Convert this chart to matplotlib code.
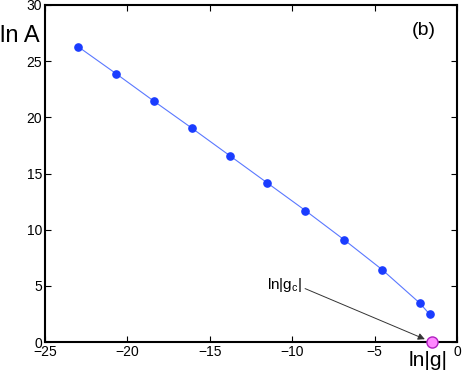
import matplotlib
matplotlib.use("Agg")
import matplotlib.pyplot as plt

ln_g = [-23.0, -20.7, -18.4, -16.1, -13.8, -11.5, -9.2, -6.85, -4.55, -2.25, -1.65]
ln_A = [26.3, 23.9, 21.45, 19.05, 16.6, 14.15, 11.7, 9.1, 6.45, 3.45, 2.45]
ln_gc = -1.5
xticks = [-25, -20, -15, -10, -5, 0]
yticks = [0, 5, 10, 15, 20, 25, 30]

plt.rcParams['font.family'] = ['Liberation Sans', 'DejaVu Sans']
plt.rcParams['mathtext.fontset'] = 'custom'
plt.rcParams['mathtext.rm'] = 'Liberation Sans'
plt.rcParams['mathtext.it'] = 'Liberation Sans'
fig = plt.figure(figsize=(4.63, 3.76), dpi=100)
ax = fig.add_axes([45/463, 34/376, 412/463, 337/376])
ax.plot(ln_g, ln_A, '-', color='#5a78ff', lw=0.8, zorder=2)
ax.plot(ln_g, ln_A, 'o', color='#1a3cff', ms=5.2, mec='#1a3cff', zorder=3)
ax.plot([ln_gc], [0], 'o', ms=8, mfc='#ff88ff', mec='#b020c0', mew=1.0, clip_on=False, zorder=5)
ax.set_xlim(-25, 0)
ax.set_ylim(0, 30)
ax.set_xticks(xticks)
ax.set_yticks(yticks)
ax.set_xticklabels(['\u2212' + str(-t) if t < 0 else str(t) for t in xticks])
ax.tick_params(direction='in', top=True, right=True, length=4, width=0.8, labelsize=10, pad=2)
for s in ax.spines.values():
    s.set_linewidth(1.5)
fig.text(0.0, 1 - 36/376, 'ln A', fontsize=17, ha='left', va='center')
fig.text(448/463, 1 - 361/376, 'ln|g|', fontsize=15, ha='right', va='center')
ax.text(0.92, 0.925, '(b)', transform=ax.transAxes, fontsize=14, ha='center', va='center')
ax.annotate(r'$\mathrm{ln|g_c|}$', xy=(ln_gc - 0.45, 0.25), xytext=(-11.5, 5.1),
            fontsize=11, ha='left', va='center',
            arrowprops=dict(arrowstyle='-|>', color='#333333', lw=0.7, mutation_scale=10,
                            shrinkA=0, shrinkB=0, relpos=(1.0, 0.35)))
fig.savefig('out.png', dpi=100)
